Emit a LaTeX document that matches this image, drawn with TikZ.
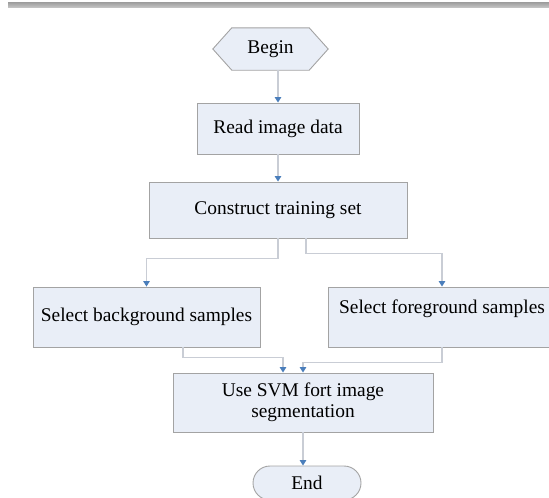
\documentclass[tikz,border=0pt]{standalone}
\usepackage{fontspec}
\setmainfont{Liberation Serif}
\usetikzlibrary{arrows.meta,shapes.misc}
\definecolor{boxfill}{HTML}{E9EEF7}
\definecolor{boxline}{HTML}{A3A3A3}
\definecolor{conline}{HTML}{C9CDD5}
\definecolor{tipblue}{HTML}{4A7EBB}
\tikzset{
  every node/.style={font=\fontsize{19.4}{21}\selectfont, text=black, inner sep=0pt},
  procbox/.style={draw=boxline, fill=boxfill, line width=0.9pt, rectangle, align=center},
  conn/.style={draw=conline, line width=1.2pt,
    -{Triangle[width=6.5pt,length=5.5pt,fill=tipblue,color=tipblue]}},
}
\begin{document}
\begin{tikzpicture}[x=1pt,y=-1pt]
\useasboundingbox (0,0) rectangle (549,498);
\clip (0,0) rectangle (549,498);
% top bar
\shade[top color=gray!75, bottom color=gray!45] (8,2.5) rectangle (549,7.5);

% nodes
\node (begin) [minimum width=115pt, minimum height=42pt] at (270.5,49) {Begin};
\fill[boxfill] (begin.west) -- ([xshift=19pt]begin.north west) -- ([xshift=-19pt]begin.north east)
  -- (begin.east) -- ([xshift=-19pt]begin.south east) -- ([xshift=19pt]begin.south west) -- cycle;
\draw[boxline, line width=0.9pt] (begin.west) -- ([xshift=19pt]begin.north west) -- ([xshift=-19pt]begin.north east)
  -- (begin.east) -- ([xshift=-19pt]begin.south east) -- ([xshift=19pt]begin.south west) -- cycle;
\node at (begin.center) {Begin};

\node (read) [procbox, minimum width=162pt, minimum height=51pt] at (278,128.5) {Read image data};
\node (construct) [procbox, minimum width=258pt, minimum height=56pt] at (278,210) {Construct training set};
\node (bg) [procbox, minimum width=227pt, minimum height=60pt] at (146.5,317) {Select background samples};
\node (fg) [procbox, minimum width=228pt, minimum height=60pt] at (442,317) {Select foreground samples\\\mbox{}};
\node (svm) [procbox, minimum width=260pt, minimum height=59pt] at (303,402.5) {Use SVM fort image\\segmentation};
\node (end) [draw=boxline, fill=boxfill, line width=0.9pt, rounded rectangle, minimum width=108pt, minimum height=34pt] at (307,483) {End};

% connectors
\draw[conn] (begin.south -| read.north) -- (read.north);
\draw[conn] (read.south) -- (read.south |- construct.north);
\draw[conn] (construct.south) -- ++(0,20) -| (bg.north);
\draw[conn] ([xshift=28pt]construct.south) -- ++(0,15) -| (fg.north);
\draw[conn] ([xshift=36.5pt]bg.south) -- ++(0,10) -| ([xshift=-20pt]svm.north);
\draw[conn] (fg.south) -- ++(0,15) -| (svm.north);
\draw[conn] (svm.south) -- (svm.south |- end.north);
\end{tikzpicture}
\end{document}
